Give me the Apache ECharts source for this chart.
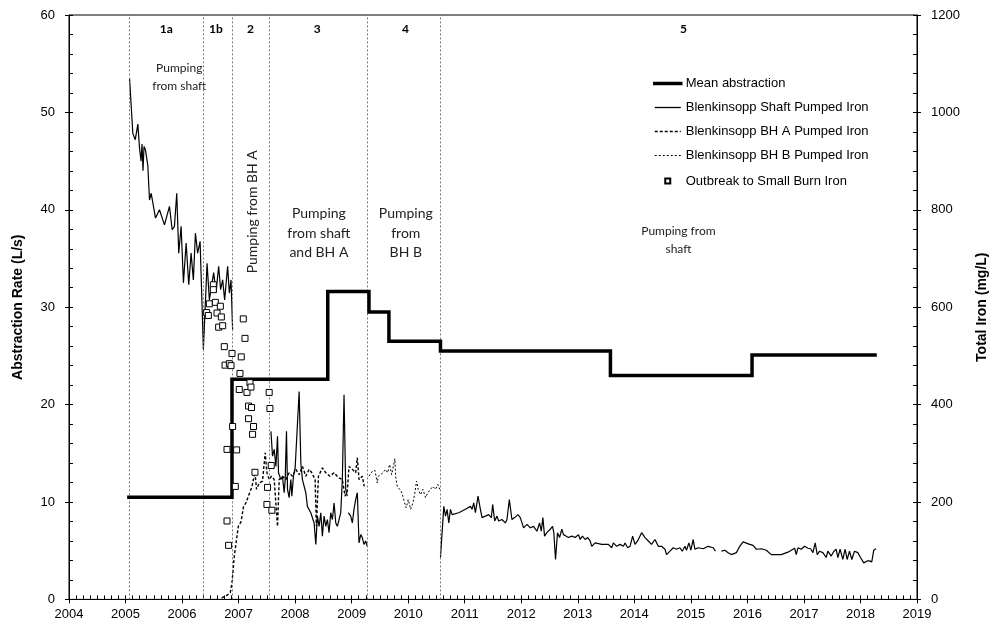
<!DOCTYPE html>
<html>
<head>
<meta charset="utf-8">
<script src="https://cdn.jsdelivr.net/npm/echarts@6.0.0/dist/echarts.min.js"></script>
<style>
html,body{margin:0;padding:0;background:#fff;}
#chart{width:997px;height:629px;}
</style>
</head>
<body>
<div id="chart"></div>
<script>
// ---- Data ----
const xTickYears = [2004, 2019];
const phaseBounds = [2005.06, 2006.365, 2006.883, 2007.554, 2009.276, 2010.571];
const phaseLabels = ['1a', '1b', '2', '3', '4', '5'];

// Mean abstraction (L/s), step levels starting at each year
const meanYears = [2005.059, 2006.883, 2008.577, 2009.306, 2009.659, 2010.571, 2013.577, 2016.082, 2018.258];
const meanRate  = [10.5, 22.6, 31.6, 29.5, 26.5, 25.5, 23.0, 25.1, 25.1];

// Blenkinsopp Shaft Pumped Iron (mg/L); null = gap
const shaftYears = [
  2005.071,2005.129,2005.172,2005.218,2005.248,2005.274,2005.292,2005.309,2005.327,2005.353,
  2005.394,2005.424,2005.454,2005.530,2005.600,2005.689,2005.777,2005.825,2005.865,2005.906,
  2005.941,2005.983,2006.024,2006.072,2006.118,2006.160,2006.200,2006.236,2006.276,2006.319,
  2006.354,2006.377,2006.442,2006.483,2006.530,2006.559,2006.601,2006.647,2006.682,2006.718,
  2006.753,2006.806,2006.836,2006.866,2006.894,
  2007.200,
  2007.572,2007.600,2007.630,2007.660,2007.688,2007.706,2007.748,2007.776,2007.806,2007.824,
  2007.847,2007.865,2007.894,2007.924,2007.942,2007.970,2008.000,2008.023,2008.071,2008.101,
  2008.129,2008.189,2008.217,2008.247,2008.277,2008.306,2008.336,2008.366,2008.394,2008.424,
  2008.454,2008.482,2008.512,2008.542,2008.570,2008.600,2008.630,2008.659,2008.689,2008.719,
  2008.747,2008.777,2008.807,2008.835,2008.865,2008.895,2008.923,
  2008.932,
  2008.941,2008.983,2009.012,2009.041,2009.071,2009.100,2009.130,2009.160,2009.188,2009.218,
  2009.248,2009.276,
  2009.900,
  2010.571,2010.630,2010.660,2010.688,2010.718,2010.748,2010.776,2010.894,2011.013,2011.101,
  2011.129,2011.159,2011.189,2011.235,2011.277,2011.306,2011.366,2011.424,2011.471,2011.494,
  2011.530,2011.570,2011.600,2011.658,2011.718,2011.747,2011.789,2011.835,2011.883,2011.941,
  2011.983,2012.041,2012.100,2012.160,2012.218,2012.276,2012.324,2012.354,2012.382,2012.412,
  2012.452,2012.512,2012.553,2012.576,2012.606,2012.641,2012.677,2012.717,2012.747,2012.788,
  2012.835,2012.894,2012.954,2013.012,2013.042,2013.082,2013.130,2013.176,2013.218,2013.247,
  2013.307,2013.423,2013.541,2013.599,2013.629,2013.688,2013.748,2013.806,2013.836,2013.882,
  2013.924,2013.970,2014.012,2014.058,2014.129,2014.189,2014.247,2014.305,2014.365,2014.424,
  2014.482,2014.542,2014.570,2014.630,2014.688,2014.746,2014.806,2014.847,2014.895,2014.923,
  2014.965,2015.000,2015.041,2015.071,2015.129,2015.218,2015.306,2015.394,2015.435,
  2015.490,
  2015.540,2015.600,2015.659,2015.717,2015.805,2015.865,2015.923,2016.042,2016.100,2016.158,
  2016.246,2016.335,2016.423,2016.599,2016.717,2016.836,2016.864,2016.894,2016.952,2017.012,
  2017.071,2017.118,2017.159,2017.199,2017.235,2017.277,2017.335,2017.393,2017.423,2017.482,
  2017.530,2017.570,2017.600,2017.640,2017.688,2017.729,2017.764,2017.806,2017.847,2017.894,
  2017.953,2018.000,2018.059,2018.117,2018.159,2018.200,2018.235,2018.276
];
const shaftIron = [
  1070,957,944,976,926,900,935,880,930,923,
  891,820,834,783,800,769,807,759,766,834,
  711,766,650,732,646,711,656,752,711,735,
  732,513,690,615,650,671,630,684,636,656,
  615,684,629,656,554,
  null,
  345,294,308,273,335,260,246,253,219,246,
  345,226,209,246,212,253,270,273,427,280,
  246,219,191,188,178,181,157,113,171,150,
  178,130,171,150,164,137,178,164,198,157,
  150,164,178,246,420,226,212,
  null,
  178,171,157,185,205,219,116,133,127,113,
  120,109,
  null,
  86,191,171,185,157,185,174,178,185,191,
  185,198,178,212,185,168,171,174,168,195,
  161,171,161,164,157,164,205,164,168,174,
  168,147,154,147,150,140,157,140,168,130,
  137,144,150,137,82,137,127,144,133,130,
  127,130,127,133,123,130,123,127,120,109,
  116,113,113,106,116,109,113,109,116,106,
  109,130,113,120,137,127,120,113,123,109,
  109,103,92,99,106,103,106,99,109,101,
  116,101,123,103,106,104,109,106,99,
  null,
  99,101,96,92,96,109,118,113,111,103,
  104,101,92,92,97,105,92,106,103,109,
  105,104,96,116,92,99,96,86,99,89,
  99,103,86,103,82,103,82,99,82,99,
  96,86,75,79,79,77,101,104
];

// Blenkinsopp BH A Pumped Iron (mg/L)
const bhAYears = [
  2006.700,2006.778,2006.853,2006.883,2006.924,2006.995,2007.042,2007.088,2007.130,2007.201,
  2007.236,2007.289,2007.317,2007.365,2007.423,2007.471,2007.501,2007.541,2007.582,2007.630,
  2007.688,2007.718,2007.776,2007.836,2007.894,2007.953,2008.013,2008.071,2008.129,2008.189,
  2008.247,2008.295,2008.353,2008.376,2008.412,2008.482,2008.542,2008.613,2008.689,2008.764,
  2008.835,2008.883,2008.923,2008.953,2009.012,2009.071,2009.100,2009.130,2009.188,2009.223
];
const bhAIron = [
  3,7,14,34,89,150,159,191,198,221,
  231,262,226,239,243,301,260,246,253,246,
  150,246,253,246,260,253,267,256,273,253,
  267,260,246,150,253,270,260,253,260,250,
  246,212,222,273,267,260,291,246,253,232
];

// Blenkinsopp BH B Pumped Iron (mg/L)
const bhBYears = [
  2009.306,2009.364,2009.412,2009.453,2009.470,2009.513,2009.553,2009.601,2009.636,2009.671,
  2009.707,2009.735,2009.765,2009.777,2009.806,2009.836,2009.876,2009.906,2009.936,2009.964,
  2010.000,2010.042,2010.083,2010.118,2010.148,2010.176,2010.218,2010.259,2010.307,2010.347,
  2010.395,2010.436,2010.483,2010.524,2010.559
];
const bhBIron = [
  253,263,265,239,253,256,260,267,260,277,
  256,253,289,253,232,229,222,212,198,188,
  205,185,198,219,243,226,215,226,209,219,
  226,232,226,236,226
];

// Outbreak to Small Burn Iron (mg/L)
const outbreakYears = [
  2006.553,2006.553,2006.483,2006.589,2006.677,2006.435,2006.465,2006.619,2006.695,2006.647,
  2006.718,2007.083,2007.113,2006.747,2006.883,2007.047,2006.760,2006.836,2006.866,2007.024,
  2007.201,2007.012,2007.148,2007.219,2007.541,2007.176,2007.229,2007.554,2006.894,2007.176,
  2007.264,2007.247,2006.795,2006.965,2007.577,2007.289,2006.942,2007.512,2007.501,2007.589,
  2006.795,2006.823
];
const outbreakIron = [
  646,636,607,610,602,589,583,588,580,559,
  562,576,536,519,505,498,481,484,480,464,
  445,431,425,436,425,397,394,392,355,371,
  355,339,308,307,275,261,232,230,195,183,
  161,111
];

const seriesNames = [
  'Mean abstraction',
  'Blenkinsopp Shaft Pumped Iron',
  'Blenkinsopp BH A Pumped Iron',
  'Blenkinsopp BH B Pumped Iron',
  'Outbreak to Small Burn Iron'
];

// ---- Build ----
const zip = (xs, ys) => xs.map((x, i) => [x, ys[i]]);
const AX = 'Liberation Sans, Arial, sans-serif';
const ANN = 'Lato, "Open Sans", sans-serif';

const chart = echarts.init(document.getElementById('chart'), null, {renderer: 'canvas'});

const baseX = {
  type: 'value', min: xTickYears[0], max: xTickYears[1], interval: 1,
  gridIndex: 0, position: 'bottom'
};
const hideSym = {opacity: 0};

const option = {
  animation: false,
  backgroundColor: '#fff',
  grid: {left: 69, right: 78, top: 15, bottom: 29.6, show: true, borderColor: '#000', borderWidth: 1, containLabel: false},
  legend: {
    orient: 'vertical', left: 653, top: 77, padding: 0,
    itemWidth: 26, itemHeight: 14, itemGap: 11,
    textStyle: {fontFamily: AX, fontSize: 13, color: '#000'},
    data: [
      {name: seriesNames[0], itemStyle: hideSym, lineStyle: {width: 3.5, color: '#000'}},
      {name: seriesNames[1], itemStyle: hideSym, lineStyle: {width: 1.3, color: '#000'}},
      {name: seriesNames[2], itemStyle: hideSym, lineStyle: {width: 1.4, color: '#000', type: [3, 2]}},
      {name: seriesNames[3], itemStyle: hideSym, lineStyle: {width: 1, color: '#000', type: [2, 2]}},
      {name: seriesNames[4], icon: 'path://M0,0M26,14M10.5,4.5h5v5h-5z'}
    ]
  },
  xAxis: [
    Object.assign({}, baseX, {
      axisLine: {show: true, lineStyle: {color: '#000', width: 1}},
      axisTick: {show: true, inside: true, length: 4, lineStyle: {color: '#000'}},
      minorTick: {show: true, splitNumber: 8, length: 4, lineStyle: {color: '#000'}},
      axisLabel: {show: true, color: '#000', fontFamily: AX, fontSize: 13, margin: 9,
                  formatter: v => String(Math.round(v))},
      splitLine: {show: false}
    }),
    Object.assign({}, baseX, {
      axisLine: {show: false},
      axisTick: {show: true, inside: false, length: 4, lineStyle: {color: '#000'}},
      axisLabel: {show: false}, splitLine: {show: false}
    })
  ],
  yAxis: [
    {
      type: 'value', min: 0, max: 60, interval: 10, position: 'left',
      name: 'Abstraction Rate (L/s)', nameLocation: 'middle', nameGap: 44, nameRotate: 90,
      nameTextStyle: {fontFamily: AX, fontSize: 14, fontWeight: 'bold', color: '#000'},
      axisLine: {show: true, lineStyle: {color: '#000'}},
      axisTick: {show: true, inside: true, length: 4, lineStyle: {color: '#000'}},
      minorTick: {show: true, splitNumber: 5, length: 4, lineStyle: {color: '#000'}},
      axisLabel: {color: '#000', fontFamily: AX, fontSize: 13, margin: 14,
                  formatter: v => String(v)},
      splitLine: {show: false}
    },
    {
      type: 'value', min: 0, max: 1200, interval: 200, position: 'right',
      name: 'Total Iron (mg/L)', nameLocation: 'middle', nameGap: 58, nameRotate: 90,
      nameTextStyle: {fontFamily: AX, fontSize: 14, fontWeight: 'bold', color: '#000'},
      axisLine: {show: true, lineStyle: {color: '#000'}},
      axisTick: {show: true, inside: true, length: 4, lineStyle: {color: '#000'}},
      minorTick: {show: true, splitNumber: 5, length: 4, lineStyle: {color: '#000'}},
      axisLabel: {color: '#000', fontFamily: AX, fontSize: 13, margin: 14,
                  formatter: v => String(v)},
      splitLine: {show: false}
    },
    {
      type: 'value', min: 0, max: 60, interval: 10, position: 'left',
      axisLine: {show: false}, axisLabel: {show: false}, splitLine: {show: false},
      axisTick: {show: true, inside: false, length: 4, lineStyle: {color: '#000'}}
    },
    {
      type: 'value', min: 0, max: 1200, interval: 200, position: 'right',
      axisLine: {show: false}, axisLabel: {show: false}, splitLine: {show: false},
      axisTick: {show: true, inside: false, length: 4, lineStyle: {color: '#000'}}
    }
  ],
  series: [
    {
      name: seriesNames[0], type: 'line', xAxisIndex: 0, yAxisIndex: 0,
      step: 'end', symbol: 'none', z: 5,
      lineStyle: {color: '#000', width: 3.5, cap: 'square', join: 'miter'},
      itemStyle: {color: '#000'},
      data: zip(meanYears, meanRate),
      markLine: {
        silent: true, symbol: 'none', animation: false,
        label: {show: false},
        lineStyle: {color: '#777', width: 1, type: [2, 2]},
        data: phaseBounds.map(x => ({xAxis: x}))
      }
    },
    {
      name: seriesNames[1], type: 'line', xAxisIndex: 0, yAxisIndex: 1,
      symbol: 'none', connectNulls: false, z: 4,
      lineStyle: {color: '#000', width: 1.2},
      itemStyle: {color: '#000'},
      data: zip(shaftYears, shaftIron)
    },
    {
      name: seriesNames[2], type: 'line', xAxisIndex: 0, yAxisIndex: 1,
      symbol: 'none', z: 3,
      lineStyle: {color: '#000', width: 1.4, type: [3, 2]},
      itemStyle: {color: '#000'},
      data: zip(bhAYears, bhAIron)
    },
    {
      name: seriesNames[3], type: 'line', xAxisIndex: 0, yAxisIndex: 1,
      symbol: 'none', z: 3,
      lineStyle: {color: '#000', width: 1, type: [2, 2]},
      itemStyle: {color: '#000'},
      data: zip(bhBYears, bhBIron)
    },
    {
      name: seriesNames[4], type: 'scatter', xAxisIndex: 0, yAxisIndex: 1,
      symbol: 'rect', symbolSize: 6, z: 6,
      itemStyle: {color: '#fff', borderColor: '#000', borderWidth: 1, opacity: 1},
      data: zip(outbreakYears, outbreakIron)
    }
  ]
};
chart.setOption(option);

// ---- Annotations (positioned from data coordinates) ----
function px(year, val) { return chart.convertToPixel({xAxisIndex: 0, yAxisIndex: 0}, [year, val]); }
const phaseLabelYears = [2005.72, 2006.60, 2007.21, 2008.39, 2009.95, 2014.87];
const g = [];
phaseLabels.forEach((t, i) => {
  const p = px(phaseLabelYears[i], 58.5);
  g.push({type: 'text', x: p[0], y: p[1], silent: true,
    style: {text: t, fill: '#000', font: 'bold 12px ' + ANN, align: 'center', verticalAlign: 'middle'}});
});
const notes = [
  {t: 'Pumping\nfrom shaft', yr: 2005.95, v: 53.6, size: 12, lh: 18, rot: 0},
  {t: 'Pumping from BH A', yr: 2007.243, v: 39.8, size: 14, lh: 18, rot: Math.PI / 2},
  {t: 'Pumping\nfrom shaft\nand BH A', yr: 2008.42, v: 37.6, size: 14, lh: 19.5, rot: 0},
  {t: 'Pumping\nfrom\nBH B', yr: 2009.957, v: 37.6, size: 14, lh: 19.5, rot: 0},
  {t: 'Pumping from\nshaft', yr: 2014.78, v: 36.9, size: 12, lh: 18, rot: 0}
];
notes.forEach(n => {
  const p = px(n.yr, n.v);
  g.push({type: 'text', x: p[0], y: p[1], rotation: n.rot, silent: true,
    style: {text: n.t, fill: '#222', font: n.size + 'px ' + ANN, lineHeight: n.lh,
            align: 'center', verticalAlign: 'middle'}});
});
chart.setOption({graphic: g});
</script>
</body>
</html>
